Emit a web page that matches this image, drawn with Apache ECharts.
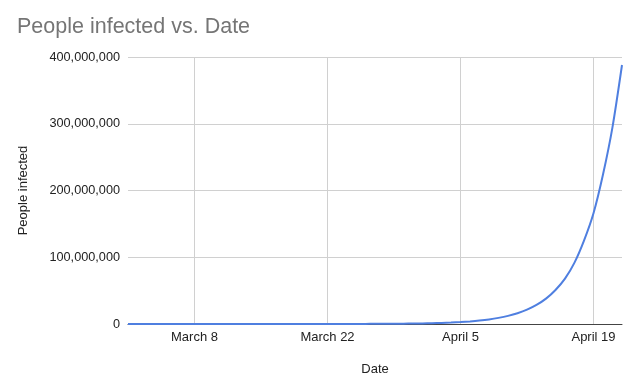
<!DOCTYPE html>
<html>
<head>
<meta charset="utf-8">
<script src="https://cdn.jsdelivr.net/npm/echarts@6/dist/echarts.min.js"></script>
<style>html,body{margin:0;padding:0;background:#fff;}#c{width:640px;height:391px;}</style>
</head>
<body>
<div id="c"></div>
<script>
var titleText = "People infected vs. Date";
var xAxisName = "Date";
var yAxisName = "People infected";
var dates = ["March 1","March 2","March 3","March 4","March 5","March 6","March 7","March 8","March 9","March 10",
"March 11","March 12","March 13","March 14","March 15","March 16","March 17","March 18","March 19","March 20",
"March 21","March 22","March 23","March 24","March 25","March 26","March 27","March 28","March 29","March 30","March 31",
"April 1","April 2","April 3","April 4","April 5","April 6","April 7","April 8","April 9","April 10",
"April 11","April 12","April 13","April 14","April 15","April 16","April 17","April 18","April 19","April 20","April 21","April 22"];
var infected = [134,178,237,315,420,560,740,1000,1300,1750,
2300,3100,4100,5500,7300,9700,13000,17000,23000,30000,
40000,54000,71000,95000,126000,168000,223000,297000,395000,526000,700000,
930000,1240000,1650000,2200000,2900000,3900000,5200000,6900000,9200000,12200000,
16200000,21500000,28600000,38000000,51000000,68000000,92000000,125000000,166000000,224000000,295000000,388000000];
var xTickLabels = ["March 8","March 22","April 5","April 19"];
var yTicks = [0,100000000,200000000,300000000,400000000];

var chart = echarts.init(document.getElementById('c'));
var font = 'Arial, "Liberation Sans", sans-serif';
function showIdx(i){ return xTickLabels.indexOf(dates[i]) >= 0; }
chart.setOption({
  animation:false,
  textStyle:{fontFamily:font},
  title:{text:titleText,left:12,top:11,textStyle:{fontSize:21.5,fontWeight:'normal',color:'#757575',fontFamily:font}},
  grid:{left:128,right:18,top:57,bottom:67},
  xAxis:{
    type:'category', data:dates, boundaryGap:false,
    name:xAxisName, nameLocation:'middle', nameGap:39,
    nameTextStyle:{fontSize:13,color:'#222'},
    axisLine:{show:true,lineStyle:{color:'#444',width:1}},
    axisTick:{show:false},
    axisLabel:{interval:function(i){return showIdx(i);},fontSize:13,color:'#222',margin:7},
    splitLine:{show:true,interval:function(i){return showIdx(i);},lineStyle:{color:'#d0d0d0',width:1}}
  },
  yAxis:{
    type:'value', min:yTicks[0], max:yTicks[yTicks.length-1], interval:yTicks[1]-yTicks[0],
    name:yAxisName, nameLocation:'middle', nameGap:98,
    nameTextStyle:{fontSize:13,color:'#222'},
    axisLine:{show:false}, axisTick:{show:false},
    axisLabel:{fontSize:12.7,color:'#222',margin:8,formatter:function(v){return v.toLocaleString('en-US');}},
    splitLine:{lineStyle:{color:'#d0d0d0',width:1}}
  },
  series:[{type:'line',data:infected,showSymbol:false,smooth:0.25,
    lineStyle:{color:'#4f7fe0',width:2},itemStyle:{color:'#4f7fe0'}}]
});
</script>
</body>
</html>
